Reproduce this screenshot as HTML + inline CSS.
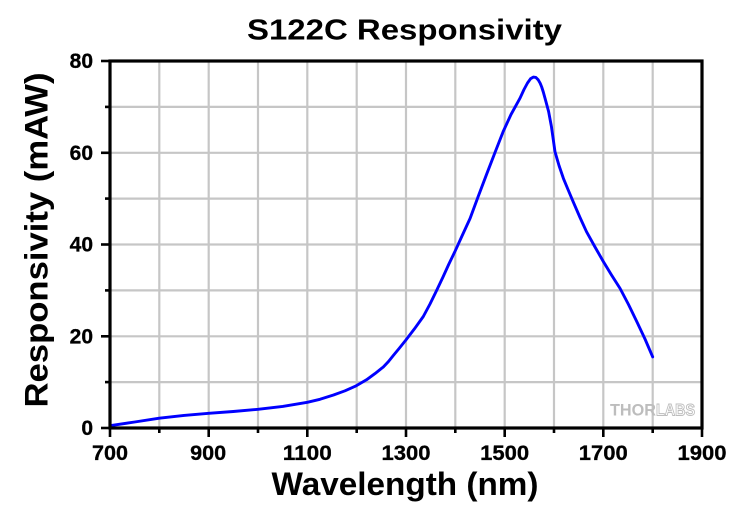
<!DOCTYPE html>
<html><head><meta charset="utf-8"><style>
html,body{margin:0;padding:0;background:#fff;}
svg{display:block;}
text{font-family:"Liberation Sans",Arial,sans-serif;font-weight:bold;fill:#000;}
</style></head><body>
<svg width="740" height="509" viewBox="0 0 740 509" xmlns="http://www.w3.org/2000/svg">
<rect width="740" height="509" fill="#fff"/>
<!-- grid -->
<g stroke="#c6c6c6" stroke-width="2.2">
<line x1="159.3" y1="61" x2="159.3" y2="428"/>
<line x1="208.7" y1="61" x2="208.7" y2="428"/>
<line x1="258" y1="61" x2="258" y2="428"/>
<line x1="307.3" y1="61" x2="307.3" y2="428"/>
<line x1="356.7" y1="61" x2="356.7" y2="428"/>
<line x1="406" y1="61" x2="406" y2="428"/>
<line x1="455.3" y1="61" x2="455.3" y2="428"/>
<line x1="504.7" y1="61" x2="504.7" y2="428"/>
<line x1="554" y1="61" x2="554" y2="428"/>
<line x1="603.3" y1="61" x2="603.3" y2="428"/>
<line x1="652.7" y1="61" x2="652.7" y2="428"/>
<line x1="110" y1="382.1" x2="702" y2="382.1"/>
<line x1="110" y1="336.3" x2="702" y2="336.3"/>
<line x1="110" y1="290.4" x2="702" y2="290.4"/>
<line x1="110" y1="244.5" x2="702" y2="244.5"/>
<line x1="110" y1="198.6" x2="702" y2="198.6"/>
<line x1="110" y1="152.8" x2="702" y2="152.8"/>
<line x1="110" y1="106.9" x2="702" y2="106.9"/>
</g>
<!-- watermark -->
<text x="610" y="415.5" font-size="17" style="fill:#bdbdbd" textLength="46" lengthAdjust="spacingAndGlyphs">THOR</text>
<text x="656" y="415.5" font-size="17" style="fill:#fff;stroke:#bdbdbd;stroke-width:1" textLength="39" lengthAdjust="spacingAndGlyphs">LABS</text>
<!-- curve -->
<polyline fill="none" stroke="#0000ff" stroke-width="2.9" stroke-linejoin="round" stroke-linecap="round" points="
110,425.7 134.7,422.0 159.3,418.2 184,415.4 208.7,413.3 233.3,411.5 258,409.3 282.7,406.4 307.3,402.3
320,399.3 333.5,395.0 345,390.8 356.2,385.8 366.5,379.8 375,373.6 383.3,367 388.5,361.5 393.3,355.5 399.5,348 406,339.9
414.5,328.8 423.3,316.5 430,304 436.6,290.5 443,277 448.9,264 454.8,251.8 462,236 470.1,218.4
478,197 486.4,174.8 495,152.5 503.2,131.5 511,114.5 520,98.2 524,89.5 527.5,83 530.5,78.8 533.3,77.1
535.8,77.4 538.2,79.8 540.2,83.3 541.7,87 543.3,92 545.5,100 548.6,111.5 551.5,127 555,151.8
559,165.5 563.4,178.4 568,189.5 573.2,201.8 580,217.5 586.5,231.7 595,247 603.3,261.5 611.5,275
620.1,288.5 628.5,304.5 636.8,321.6 645,339 652.7,356.9"/>
<!-- frame -->
<g stroke="#000" stroke-width="3.2" fill="none">
<rect x="110" y="61" width="592" height="367"/>
</g>
<!-- ticks -->
<g stroke="#000" stroke-width="2.6">
<line x1="101" y1="428" x2="110" y2="428"/>
<line x1="101" y1="336.3" x2="110" y2="336.3"/>
<line x1="101" y1="244.5" x2="110" y2="244.5"/>
<line x1="101" y1="152.8" x2="110" y2="152.8"/>
<line x1="101" y1="61" x2="110" y2="61"/>
<line x1="105" y1="382.1" x2="110" y2="382.1"/>
<line x1="105" y1="290.4" x2="110" y2="290.4"/>
<line x1="105" y1="198.6" x2="110" y2="198.6"/>
<line x1="105" y1="106.9" x2="110" y2="106.9"/>
<line x1="110" y1="428" x2="110" y2="437"/>
<line x1="208.7" y1="428" x2="208.7" y2="437"/>
<line x1="307.3" y1="428" x2="307.3" y2="437"/>
<line x1="406" y1="428" x2="406" y2="437"/>
<line x1="504.7" y1="428" x2="504.7" y2="437"/>
<line x1="603.3" y1="428" x2="603.3" y2="437"/>
<line x1="702" y1="428" x2="702" y2="437"/>
<line x1="159.3" y1="428" x2="159.3" y2="433"/>
<line x1="258" y1="428" x2="258" y2="433"/>
<line x1="356.7" y1="428" x2="356.7" y2="433"/>
<line x1="455.3" y1="428" x2="455.3" y2="433"/>
<line x1="554" y1="428" x2="554" y2="433"/>
<line x1="652.7" y1="428" x2="652.7" y2="433"/>
</g>
<!-- y tick labels -->
<g font-size="21" text-anchor="end" style="stroke:#000;stroke-width:0.3">
<text x="93" y="435">0</text>
<text x="93" y="343.3">20</text>
<text x="93" y="251.5">40</text>
<text x="93" y="159.8">60</text>
<text x="93" y="68">80</text>
</g>
<!-- x tick labels -->
<g font-size="21" text-anchor="middle" style="stroke:#000;stroke-width:0.3">
<text x="110" y="460" textLength="36" lengthAdjust="spacingAndGlyphs">700</text>
<text x="208.2" y="460" textLength="36" lengthAdjust="spacingAndGlyphs">900</text>
<text x="307.3" y="460" textLength="49" lengthAdjust="spacingAndGlyphs">1100</text>
<text x="406" y="460" textLength="49" lengthAdjust="spacingAndGlyphs">1300</text>
<text x="504.7" y="460" textLength="49" lengthAdjust="spacingAndGlyphs">1500</text>
<text x="603.3" y="460" textLength="49" lengthAdjust="spacingAndGlyphs">1700</text>
<text x="702" y="460" textLength="49" lengthAdjust="spacingAndGlyphs">1900</text>
</g>
<!-- title -->
<text x="404.5" y="39.5" font-size="29" text-anchor="middle" textLength="315" lengthAdjust="spacingAndGlyphs">S122C Responsivity</text>
<!-- axis labels -->
<text x="405" y="495" font-size="32" text-anchor="middle" textLength="267" lengthAdjust="spacingAndGlyphs">Wavelength (nm)</text>
<text transform="translate(47.5,240) rotate(-90)" x="0" y="0" font-size="32" text-anchor="middle" textLength="335" lengthAdjust="spacingAndGlyphs">Responsivity (mAW)</text>
</svg>
</body></html>
